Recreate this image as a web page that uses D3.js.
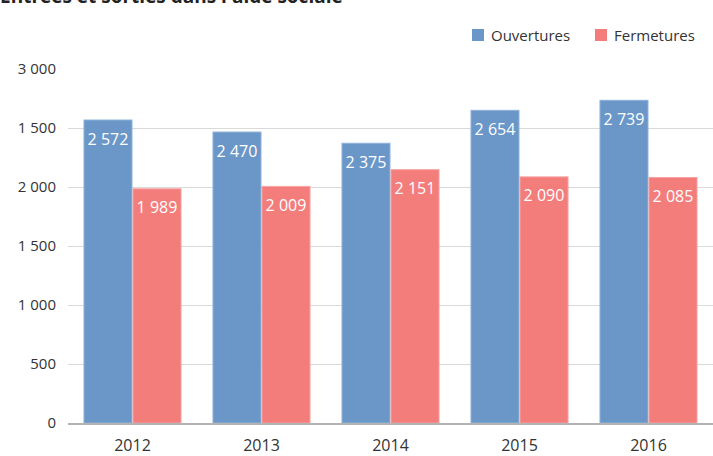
<!DOCTYPE html>
<html>
<head>
<meta charset="utf-8">
<script src="https://cdn.jsdelivr.net/npm/d3@7"></script>
<style>
  body { margin: 0; background: #fff; }
  svg { display: block; font-family: "Open Sans", "Noto Sans", sans-serif; }
</style>
</head>
<body>
<div id="chart"></div>
<script>
(function(d3) {
    "use strict";

    var title = "Entrées et sorties dans l'aide sociale";
    var years = ["2012", "2013", "2014", "2015", "2016"];
    var seriesNames = ["Ouvertures", "Fermetures"];
    var ouvertures = [2572, 2470, 2375, 2654, 2739];
    var fermetures = [1989, 2009, 2151, 2090, 2085];
    var tickValues = [0, 500, 1000, 1500, 2000, 2500, 3000];
    // tick labels as printed on the chart
    var tickLabels = ["0", "500", "1 000", "1 500", "2 000", "1 500", "3 000"];

    var width = 713, height = 456;
    var margin = { top: 69, right: 0, bottom: 33, left: 68 };
    var colors = { Ouvertures: "#6a97c7", Fermetures: "#f37d7b" };
    var strokes = { Ouvertures: "#8fb2d9", Fermetures: "#f7a3a1" };

    var fmt = function(v) {
        return d3.format(",")(v).replace(/,/g, " ");
    };

    var svg = d3.select("#chart").append("svg")
        .attr("width", width)
        .attr("height", height);

    var x = d3.scaleBand()
        .domain(years)
        .range([margin.left, width - margin.right])
        .paddingInner(0.24)
        .paddingOuter(0.12);

    var xInner = d3.scaleBand()
        .domain(seriesNames)
        .range([0, x.bandwidth()]);

    var y = d3.scaleLinear()
        .domain([0, 3000])
        .range([height - margin.bottom, margin.top]);

    // title (cut off at the top edge, as in the source)
    svg.append("text")
        .attr("x", 0)
        .attr("y", 3)
        .attr("font-size", 19)
        .attr("font-weight", "bold")
        .attr("fill", "#222")
        .text(title);

    // grid lines
    svg.append("g")
        .selectAll("line")
        .data(tickValues.filter(function(d) { return d > 0 && d < 3000; }))
        .enter().append("line")
        .attr("x1", margin.left)
        .attr("x2", width)
        .attr("y1", function(d) { return y(d) + 0.5; })
        .attr("y2", function(d) { return y(d) + 0.5; })
        .attr("stroke", "#d9d9d9")
        .attr("stroke-width", 1);

    // y axis labels
    var yAxis = d3.axisLeft(y)
        .tickValues(tickValues)
        .tickSize(0)
        .tickPadding(0)
        .tickFormat(function(d, i) { return tickLabels[i]; });

    svg.append("g")
        .attr("transform", "translate(56,0)")
        .call(yAxis)
        .call(function(g) { g.select(".domain").remove(); })
        .selectAll("text")
        .attr("font-size", 15)
        .attr("font-family", "'Open Sans', sans-serif")
        .attr("fill", "#333");

    var rows = years.map(function(yr, i) {
        return { year: yr, values: [
            { key: "Ouvertures", value: ouvertures[i] },
            { key: "Fermetures", value: fermetures[i] }
        ] };
    });

    var groups = svg.append("g")
        .selectAll("g")
        .data(rows)
        .enter().append("g")
        .attr("transform", function(d) { return "translate(" + x(d.year) + ",0)"; });

    groups.selectAll("rect")
        .data(function(d) { return d.values; })
        .enter().append("rect")
        .attr("x", function(d) { return xInner(d.key) + 0.5; })
        .attr("y", function(d) { return y(d.value) + 0.5; })
        .attr("width", xInner.bandwidth() - 1)
        .attr("height", function(d) { return y(0) - y(d.value) - 0.5; })
        .attr("fill", function(d) { return colors[d.key]; })
        .attr("stroke", function(d) { return strokes[d.key]; })
        .attr("stroke-width", 1);

    groups.selectAll("text")
        .data(function(d) { return d.values; })
        .enter().append("text")
        .attr("x", function(d) { return xInner(d.key) + xInner.bandwidth() / 2; })
        .attr("y", function(d) { return y(d.value) + 25; })
        .attr("text-anchor", "middle")
        .attr("font-size", 16)
        .attr("fill", "#fff")
        .text(function(d) { return fmt(d.value); });

    // baseline
    svg.append("line")
        .attr("x1", margin.left)
        .attr("x2", width)
        .attr("y1", y(0) + 1)
        .attr("y2", y(0) + 1)
        .attr("stroke", "#b3b3b3")
        .attr("stroke-width", 2);

    // x axis labels
    var xAxis = d3.axisBottom(x).tickSize(0).tickPadding(0);
    svg.append("g")
        .attr("transform", "translate(0," + (y(0) + 17) + ")")
        .call(xAxis)
        .call(function(g) { g.select(".domain").remove(); })
        .selectAll("text")
        .attr("font-size", 16)
        .attr("font-family", "'Open Sans', sans-serif")
        .attr("fill", "#333");

    // legend
    var legendX = [472, 595];
    var legend = svg.append("g")
        .selectAll("g")
        .data(seriesNames)
        .enter().append("g")
        .attr("transform", function(d, i) { return "translate(" + legendX[i] + ",29)"; });

    legend.append("rect")
        .attr("width", 12)
        .attr("height", 12)
        .attr("fill", function(d) { return colors[d]; });

    legend.append("text")
        .attr("x", 19)
        .attr("y", 11.5)
        .attr("font-size", 15)
        .attr("fill", "#333")
        .text(function(d) { return d; });

})(d3);
</script>
</body>
</html>
